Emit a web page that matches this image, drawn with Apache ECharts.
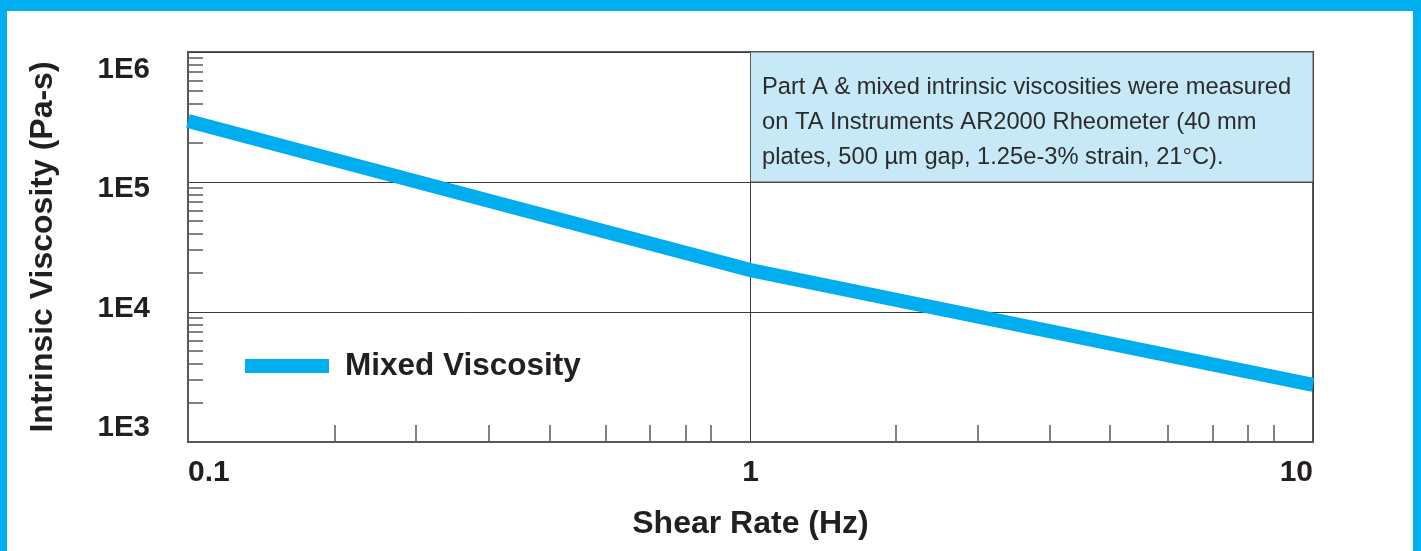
<!DOCTYPE html>
<html><head><meta charset="utf-8">
<script src="https://cdn.jsdelivr.net/npm/echarts@6/dist/echarts.min.js"></script>
<style>html,body{margin:0;padding:0;background:#fff}#c{width:1421px;height:551px}</style>
</head><body><div id="c"></div>
<script>
// ---- data ----
const shearRate = [0.1, 1, 10];                 // Hz
const mixedViscosity = [2.95e5, 2.1e4, 2.75e3]; // Pa-s
const seriesName = 'Mixed Viscosity';
const xTickLabels = ['0.1', '1', '10'];
const yTickLabels = ['1E3', '1E4', '1E5', '1E6'];
const xMinorTicks = [0.182, 0.254, 0.342, 0.44, 0.552, 0.663, 0.766, 0.85,
                     1.81, 2.54, 3.40, 4.35, 5.52, 6.64, 7.66, 8.51];
const yMinorTicks = [2000, 3000, 4000, 5000, 6000, 7000, 8000, 9000,
                     20000, 30000, 40000, 50000, 60000, 70000, 80000, 90000,
                     200000, 300000, 400000, 500000, 600000, 700000, 800000, 900000];
const noteLines = [
  'Part A & mixed intrinsic viscosities were measured',
  'on TA Instruments AR2000 Rheometer (40 mm',
  'plates, 500 \u00b5m gap, 1.25e-3% strain, 21\u00b0C).'
];
const xName = 'Shear Rate (Hz)';
const yName = 'Intrinsic Viscosity (Pa-s)';

const FONT = '"Liberation Sans", Arial, Helvetica, sans-serif';
const DARK = '#231f20';
const AXIS = '#58595b';
const BLUE = '#00aeef';

const yLabelStyle = {fontSize: 29.5, fontWeight: 'bold', color: DARK, fontFamily: FONT};
const yRich = {
  l0: Object.assign({padding: [0, 0, 28, 0]}, yLabelStyle),
  l1: Object.assign({padding: [0, 0, 6, 0]}, yLabelStyle),
  l2: Object.assign({padding: [14, 0, 0, 0]}, yLabelStyle),
  l3: Object.assign({padding: [36, 0, 0, 0]}, yLabelStyle)
};

const chart = echarts.init(document.getElementById('c'), null, {renderer: 'canvas'});
chart.setOption({
  animation: false,
  backgroundColor: '#ffffff',
  graphic: [
    {type: 'rect', shape: {x: 0, y: 0, width: 1421, height: 11}, style: {fill: BLUE}, silent: true},
    {type: 'rect', shape: {x: 0, y: 0, width: 7, height: 551}, style: {fill: BLUE}, silent: true},
    {type: 'rect', shape: {x: 1413, y: 0, width: 8, height: 551}, style: {fill: BLUE}, silent: true}
  ],
  grid: {left: 188, top: 52, width: 1125, height: 390, show: true, borderColor: AXIS, borderWidth: 2, backgroundColor: 'transparent'},
  legend: {
    left: 240, top: 345, icon: 'rect', itemWidth: 84, itemHeight: 14,
    textStyle: {fontSize: 31.5, fontWeight: 'bold', color: DARK, fontFamily: FONT, padding: [0, 0, 0, 11]},
    data: [seriesName]
  },
  xAxis: [{
    type: 'log', logBase: 10, min: 0.1, max: 10, position: 'bottom',
    name: xName, nameLocation: 'middle', nameGap: 66,
    nameTextStyle: {fontSize: 32, fontWeight: 'bold', color: DARK, fontFamily: FONT},
    axisLine: {show: true, lineStyle: {color: AXIS, width: 2}},
    axisTick: {show: false},
    minorTick: {show: false},
    axisLabel: {
      show: true, margin: 16, fontSize: 30, fontWeight: 'bold', color: DARK, fontFamily: FONT,
      alignMinLabel: 'left', alignMaxLabel: 'right',
      formatter: (v) => xTickLabels[Math.round(Math.log10(v)) + 1]
    },
    splitLine: {show: true, lineStyle: {color: '#3a3a3a', width: 1}}
  }, {
    type: 'log', logBase: 10, min: 0.1, max: 10, position: 'bottom', offset: 0,
    axisLine: {show: false},
    axisTick: {show: true, inside: true, length: 17, customValues: xMinorTicks, lineStyle: {color: AXIS, width: 1.5}},
    minorTick: {show: false},
    axisLabel: {show: false},
    splitLine: {show: false}
  }],
  yAxis: [{
    type: 'log', logBase: 10, min: 1000, max: 1000000, position: 'left',
    name: yName, nameLocation: 'middle', nameGap: 129, nameRotate: 90,
    nameTextStyle: {fontSize: 32, fontWeight: 'bold', color: DARK, fontFamily: FONT},
    axisLine: {show: true, lineStyle: {color: AXIS, width: 2}},
    axisTick: {show: false},
    minorTick: {show: false},
    axisLabel: {
      show: true, margin: 38, color: DARK, fontFamily: FONT,
      formatter: (v) => {
        const i = Math.round(Math.log10(v)) - 3;
        return '{l' + i + '|' + yTickLabels[i] + '}';
      },
      rich: yRich
    },
    splitLine: {show: true, lineStyle: {color: '#3a3a3a', width: 1}}
  }, {
    type: 'log', logBase: 10, min: 1000, max: 1000000, position: 'left', offset: 0,
    axisLine: {show: false},
    axisTick: {show: true, inside: true, length: 15, customValues: yMinorTicks, lineStyle: {color: AXIS, width: 1.5}},
    minorTick: {show: false},
    axisLabel: {show: false},
    splitLine: {show: false}
  }],
  series: [{
    name: seriesName,
    type: 'line',
    xAxisIndex: 0, yAxisIndex: 0,
    data: shearRate.map((x, i) => [x, mixedViscosity[i]]),
    symbol: 'none',
    clip: true,
    lineStyle: {color: BLUE, width: 14, cap: 'butt', join: 'miter'},
    itemStyle: {color: BLUE},
    z: 3,
    markArea: {
      silent: true,
      itemStyle: {color: '#c6e8f7', borderColor: AXIS, borderWidth: 1},
      label: {
        show: true, position: 'insideTopLeft', distance: 0,
        padding: [18, 0, 0, 12],
        fontSize: 23.7, lineHeight: 35, color: '#2b2b2b', fontFamily: FONT,
        formatter: noteLines.join('\n')
      },
      data: [[{xAxis: 1, yAxis: 100000}, {xAxis: 10, yAxis: 1000000}]]
    }
  }]
});
</script></body></html>
